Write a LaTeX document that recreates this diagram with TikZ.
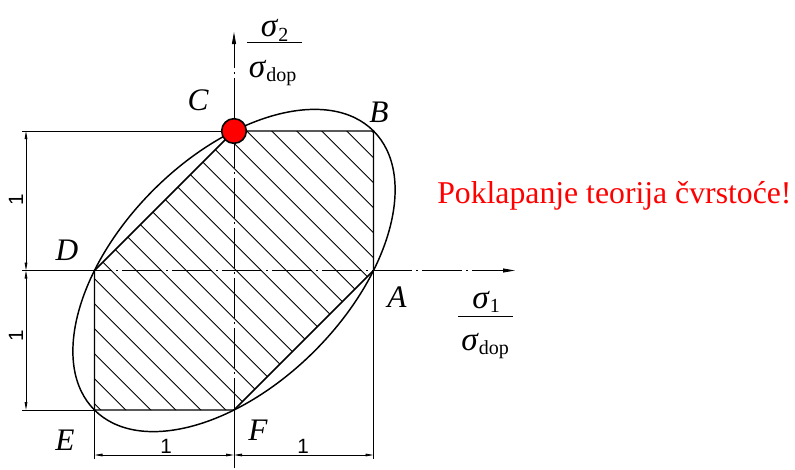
\documentclass[tikz,border=0pt]{standalone}
\usepackage{fontspec}
\setmainfont{Liberation Serif}
\newfontfamily\dimfont{Liberation Sans}
\usetikzlibrary{arrows.meta}
\newcommand{\sgm}{\fontsize{25}{27}\selectfont\textit{σ}}
\newcommand{\subx}[1]{\raisebox{-3.5pt}{\fontsize{15}{16}\selectfont #1}}
\begin{document}
\begin{tikzpicture}[x=0.75pt,y=0.75pt,
  outline/.style={line width=1.1pt},
  hatchline/.style={line width=0.65pt},
  thinline/.style={line width=0.6pt},
  axisline/.style={line width=0.6pt, dash pattern=on 30pt off 3pt on 1.5pt off 3pt},
  axistip/.style={-{Triangle[length=9pt,width=3pt]}},
  dimarrow/.style={line width=0.6pt, {Triangle[length=6pt,width=2pt]}-{Triangle[length=6pt,width=2pt]}},
  pointlabel/.style={font=\fontsize{23.5}{25}\selectfont\itshape, inner sep=0pt},
  dimlabel/.style={font=\dimfont\fontsize{15.5}{17}\selectfont, inner sep=0pt},
  fraclabel/.style={anchor=base, inner sep=0pt},
]
\useasboundingbox (0,0) rectangle (795,469);
% key points
\coordinate (O) at (234,198.5);
\coordinate (A) at (373.5,198.5);
\coordinate (B) at (373.5,338);
\coordinate (C) at (234,338);
\coordinate (D) at (94.5,198.5);
\coordinate (E) at (94.5,59);
\coordinate (F) at (234,59);
% hatching
\begin{scope}
  \clip (A) -- (B) -- (C) -- (D) -- (E) -- (F) -- cycle;
  \foreach \k in {-18,...,5} {
    \pgfmathsetmacro\s{584.7+25*\k}
    \draw[hatchline] (\s-400,400) -- (\s,0);
  }
\end{scope}
% hexagon and ellipse
\draw[outline] (A) -- (B) -- (C) -- (D) -- (E) -- (F) -- cycle;
\draw[outline, rotate around={45:(O)}] (O) ellipse [x radius=197.3, y radius=113.9];
% axes
\coordinate (xl) at (22,198.5);
\coordinate (xr) at (515,198.5);
\coordinate (yb) at (234,1);
\coordinate (yt) at (234,437);
\draw[axisline, axistip] (xl) -- (xr);
\draw[axisline, axistip] (yb) -- (yt);
% extension lines
\coordinate (et) at (22,338);
\coordinate (ed) at (22,198.5);
\coordinate (eb) at (22,59);
\coordinate (eE) at (94.5,10);
\coordinate (eA) at (373.5,10);
\draw[thinline] (et) -- (C);
\draw[thinline] (ed) -- (D);
\draw[thinline] (eb) -- (E);
\draw[thinline] (E) -- (eE);
\draw[thinline] (A) -- (eA);
\draw[thinline] (F) -- (yb);
% dimension lines
\coordinate (l1) at (26,338);
\coordinate (l2) at (26,198.5);
\coordinate (l3) at (26,59);
\coordinate (b1) at (94.5,14);
\coordinate (b2) at (234,14);
\coordinate (b3) at (373.5,14);
\draw[dimarrow] (l1) -- (l2);
\draw[dimarrow] (l2) -- (l3);
\draw[dimarrow] (b1) -- (b2);
\draw[dimarrow] (b2) -- (b3);
\node[dimlabel, rotate=90] (d1) at (16,269) {1};
\node[dimlabel, rotate=90] (d2) at (16,133) {1};
\node[dimlabel] (d3) at (166,23) {1};
\node[dimlabel] (d4) at (303,23) {1};
% point labels
\node[pointlabel] (lC) at (198,369) {C};
\node[pointlabel] (lB) at (379,357) {B};
\node[pointlabel] (lD) at (67,219) {D};
\node[pointlabel] (lA) at (397,172) {A};
\node[pointlabel] (lE) at (65,29) {E};
\node[pointlabel] (lF) at (258,39) {F};
% fractions
\node[fraclabel] (n2) at (274.5,432) {\sgm\subx{2}};
\coordinate (f2l) at (247,427);
\coordinate (f2r) at (302,427);
\draw[thinline] (f2l) -- (f2r);
\node[fraclabel] (d2f) at (272.5,392) {\sgm\subx{dop}};
\node[fraclabel] (n1) at (486,161) {\sgm\subx{1}};
\coordinate (f1l) at (458,153);
\coordinate (f1r) at (513,153);
\draw[thinline] (f1l) -- (f1r);
\node[fraclabel] (d1f) at (485,119) {\sgm\subx{dop}};
% message
\node[anchor=base west, inner sep=0pt, text=red, font=\fontsize{23.8}{26}\selectfont] (msg) at (437,266) {Poklapanje teorija čvrstoće!};
% red point at C
\node[circle, fill=red, draw=black, line width=1.2pt, minimum size=18.5pt, inner sep=0pt] (dot) at (C) {};
\end{tikzpicture}
\end{document}
